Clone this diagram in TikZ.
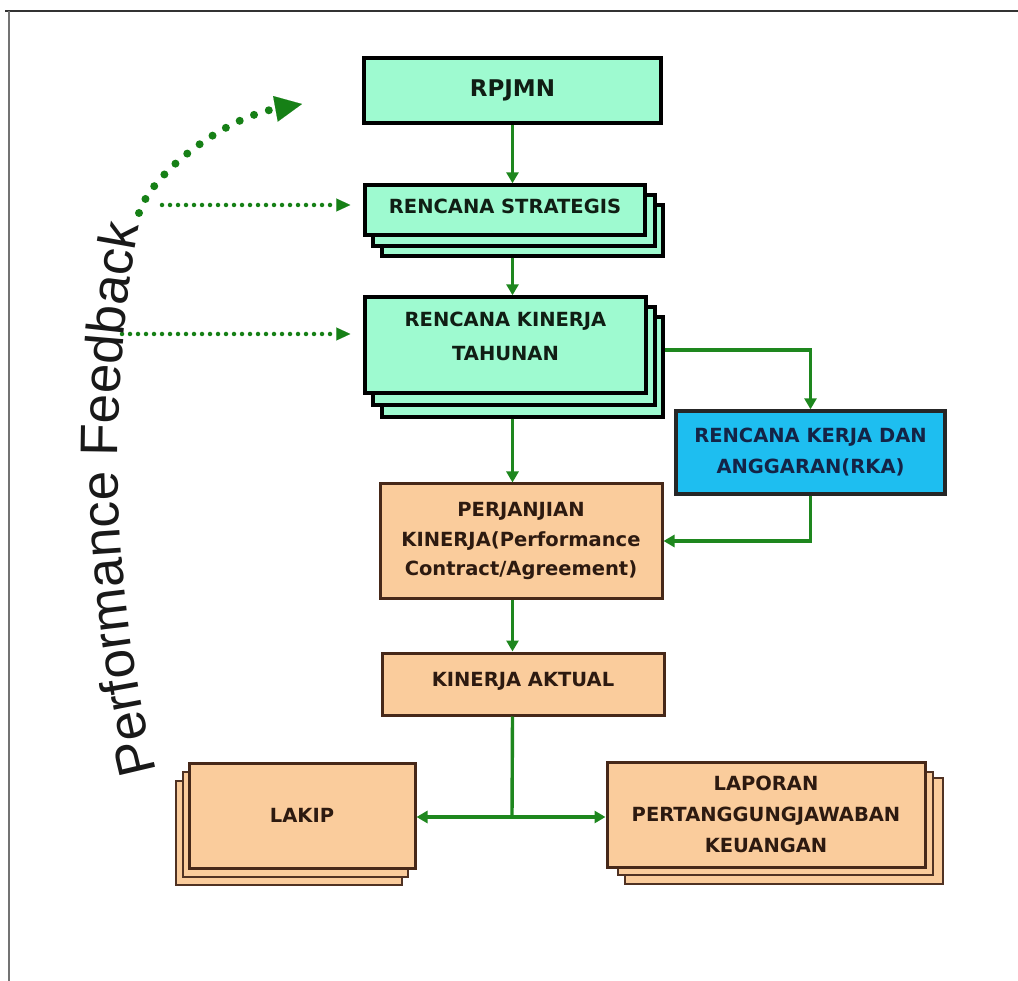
\documentclass[tikz,border=0pt]{standalone}
\usepackage{fontspec}
\setmainfont{DejaVu Sans}
\newfontfamily\arialf{Liberation Sans}
\usetikzlibrary{arrows.meta,decorations.text,calc}
\definecolor{mint}{RGB}{158,250,208}
\definecolor{peach}{RGB}{250,204,156}
\definecolor{rkablue}{RGB}{30,190,240}
\definecolor{conng}{RGB}{30,135,30}
\definecolor{dotg}{RGB}{22,128,22}
\definecolor{brownb}{RGB}{70,40,25}
\definecolor{layerb}{RGB}{80,50,35}
\definecolor{minttxt}{RGB}{16,30,20}
\definecolor{rkatxt}{RGB}{20,36,70}
\definecolor{peachtxt}{RGB}{45,26,16}
\begin{document}
\begin{tikzpicture}[x=1pt,y=-1pt,
  boxtxt/.style={font=\fontsize{19.5}{31}\selectfont\bfseries, align=center},
  mintbox/.style={draw=black, line width=3.4pt, fill=mint, inner sep=0pt, text=minttxt},
  rkabox/.style={draw=black!85, line width=3.4pt, fill=rkablue, inner sep=0pt, text=rkatxt},
  peachbox/.style={draw=brownb, line width=3pt, fill=peach, inner sep=0pt, text=peachtxt},
  peachlayer/.style={draw=layerb, line width=2.6pt, fill=peach, inner sep=0pt},
  conn/.style={draw=conng, line width=3.4pt, -{Triangle[length=11pt,width=12pt]}},
  connl/.style={draw=conng, line width=3.4pt},
  fbdot/.style={draw=dotg, line width=4.5pt, line cap=round, dash pattern=on 0pt off 8pt, -{Triangle[length=14pt,width=13pt,line width=0.1pt]}},
  bigdot/.style={draw=dotg, line width=8pt, line cap=round, dash pattern=on 0pt off 15.5pt, -{Triangle[length=27pt,width=26pt,line width=0.1pt]}}
]
\useasboundingbox (0,0) rectangle (1018,981);
% frame
\draw[line width=2.4pt, black!80] (5,11) -- (1018,11);
\draw[line width=2pt, black!55] (9,11) -- (9,981);

% RPJMN
\node[mintbox, minimum width=297pt, minimum height=65pt, font=\fontsize{23}{28}\selectfont\bfseries] (rpjmn) at (512.5,90.5) {RPJMN};

% Rencana Strategis stack
\node[mintbox, minimum width=281pt, minimum height=51pt] (rs3) at (522.5,230.5) {};
\node[mintbox, minimum width=282pt, minimum height=51pt] (rs2) at (514,220.5) {};
\node[mintbox, boxtxt, minimum width=280pt, minimum height=50pt, text depth=8pt] (rs) at (505,210) {RENCANA STRATEGIS};

% Rencana Kinerja Tahunan stack
\node[mintbox, minimum width=281pt, minimum height=100pt] (rkt3) at (522.5,367) {};
\node[mintbox, minimum width=282pt, minimum height=98pt] (rkt2) at (514,356) {};
\node[mintbox, minimum width=281pt, minimum height=96pt] (rkt) at (505.5,345) {};
\node[boxtxt, text=minttxt, font=\fontsize{19.5}{34}\selectfont\bfseries] (rkttext) at (505.5,336) {RENCANA KINERJA\\TAHUNAN};

% RKA
\node[rkabox, boxtxt, minimum width=269pt, minimum height=83pt] (rka) at (810.5,452.5) {RENCANA KERJA DAN\\ANGGARAN(RKA)};

% Perjanjian Kinerja
\node[peachbox, boxtxt, minimum width=282pt, minimum height=114pt, font=\fontsize{19.5}{29.5}\selectfont\bfseries] (pk) at (521,541) {PERJANJIAN\\KINERJA(Performance\\Contract/Agreement)};

% Kinerja Aktual
\node[peachbox, boxtxt, minimum width=282pt, minimum height=62pt, text depth=10pt] (ka) at (523,684) {KINERJA AKTUAL};

% LAKIP stack
\node[peachlayer, minimum width=226pt, minimum height=104pt] (lakip3) at (289,833) {};
\node[peachlayer, minimum width=225pt, minimum height=105pt] (lakip2) at (295.5,824.5) {};
\node[peachbox, boxtxt, minimum width=226pt, minimum height=105pt] (lakip) at (302,815.5) {LAKIP};

% Laporan stack
\node[peachlayer, minimum width=318pt, minimum height=106pt] (lap3) at (784,831) {};
\node[peachlayer, minimum width=315pt, minimum height=103pt] (lap2) at (775.5,823.5) {};
\node[peachbox, boxtxt, minimum width=318pt, minimum height=105pt] (lap) at (766,814.5) {LAPORAN\\PERTANGGUNGJAWABAN\\KEUANGAN};

% connectors
\draw[conn] (rpjmn.south) -- (rpjmn.south |- rs.north);
\draw[conn] (rpjmn.south |- rs3.south) -- (rpjmn.south |- rkt.north);
\draw[conn] (rpjmn.south |- rkt3.south) -- (rpjmn.south |- pk.north);
\draw[conn] ([yshift=17pt]rkt3.east) -| (rka.north);
\draw[conn] (rka.south) |- (pk.east);
\draw[conn] (rpjmn.south |- pk.south) -- (rpjmn.south |- ka.north);
\coordinate (split) at (512,817);
\draw[connl] (rpjmn.south |- ka.south) -- (split);
\draw[conn] (split) -- (split -| lakip.east);
\draw[conn] (split) -- (split -| lap.west);

% feedback dotted arrows
\coordinate (fbA) at (162,205);
\coordinate (fbB) at (122,334);
\draw[fbdot, shorten >=13pt] (fbA) -- (fbA -| rs.west);
\draw[fbdot, shorten >=13pt] (fbB) -- (fbB -| rkt.west);
\coordinate (cvS) at (139,213);
\coordinate (cvE) at (302,104);
\draw[bigdot] (cvS) .. controls (152,172) and (225,118) .. (cvE);

% Performance Feedback text along arc (in an unflipped scope)
\begin{scope}[y=1pt]
\path[decorate, decoration={text along path, text align=center, text color=black!90,
  text={|\arialf\fontsize{53}{60}\selectfont|Performance Feedback}}]
  (160,-785) .. controls (111,-597) and (104,-402) .. (142,-212);
\end{scope}
\end{tikzpicture}
\end{document}
